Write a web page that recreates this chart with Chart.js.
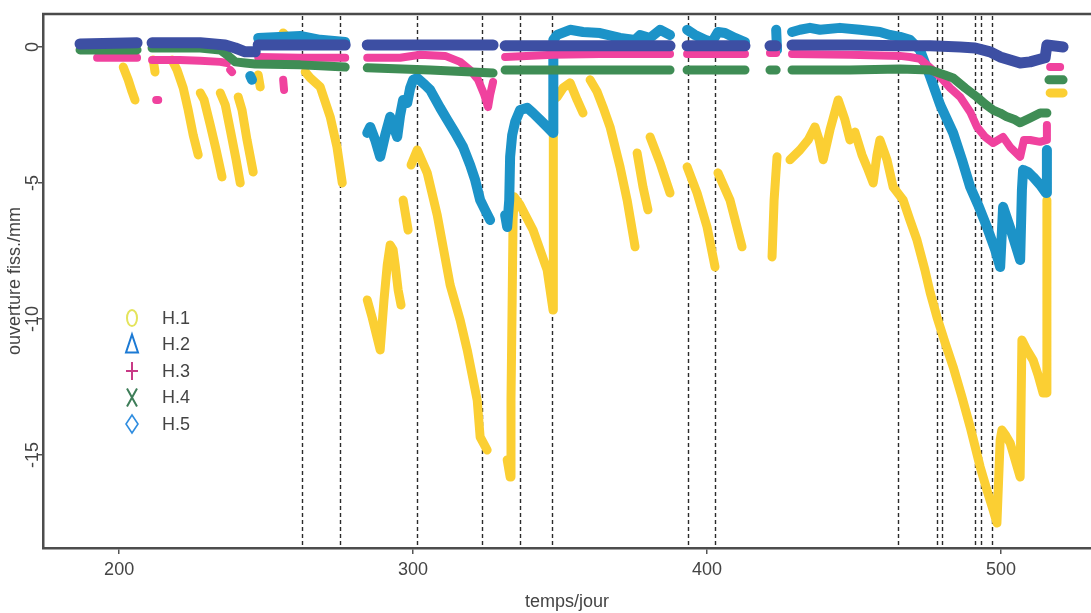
<!DOCTYPE html>
<html>
<head>
<meta charset="utf-8">
<script src="https://cdn.jsdelivr.net/npm/chart.js"></script>
<style>
  html, body { margin: 0; padding: 0; background: #fff; }
  #wrap { width: 1091px; height: 613px; position: relative; }
</style>
</head>
<body>
<div id="wrap"><canvas id="chart"></canvas></div>
<script>
const h1 = [
  [201.4,-0.74],[203.1,-1.21],[204.4,-1.65],[205.4,-1.95], null,
  [211.6,-0.48],[212.2,-0.92], null,
  [218.0,-0.48],[219.7,-0.85],[221.8,-1.51],[223.5,-2.32],[225.2,-3.24],[226.9,-3.97], null,
  [227.6,-1.69],[228.9,-1.95],[231.0,-2.87],[233.0,-3.79],[235.0,-4.78], null,
  [234.4,-1.69],[236.1,-2.13],[237.8,-3.05],[239.8,-4.15],[241.2,-5.00], null,
  [240.5,-1.84],[241.8,-2.32],[243.5,-3.42],[245.6,-4.60], null,
  [247.3,-1.03],[248.0,-1.47], null,
  [255.8,0.51],[257.1,0.37], null,
  [263.3,-0.92],[265.0,-1.14],[268.4,-1.47],[271.8,-2.57],[274.1,-3.68],[275.9,-5.00], null,
  [284.4,-9.30],[286.1,-9.96],[288.8,-11.14],[290.1,-9.30],[291.2,-8.01],[292.2,-7.28],[293.2,-7.46],[293.9,-8.01],[294.9,-8.93],[295.9,-9.49], null,
  [296.6,-5.63],[298.3,-6.73], null,
  [299.3,-4.34],[301.4,-3.79],[304.8,-4.63],[308.2,-6.18],[312.6,-8.75],[316.0,-10.04],[318.4,-11.14],[321.8,-12.98],[322.8,-14.34],[325.2,-14.82], null,
  [332.0,-15.18],[333.0,-15.81],[333.3,-12.98],[333.7,-9.30],[334.0,-6.36],[334.4,-5.51],[336.4,-5.81],[340.8,-6.73],[345.6,-8.20],[347.6,-9.67],
  [347.7,-1.95],[349.0,-1.84],[351.0,-1.51],[353.4,-1.32],[355.8,-1.95],[357.8,-2.43], null,
  [360.2,-1.21],[362.6,-1.65],[364.6,-2.21],[367.0,-2.94],[370.4,-4.41],[372.8,-5.63],[375.5,-7.35], null,
  [376.2,-3.90],[378.2,-5.15],[379.9,-5.99], null,
  [380.6,-3.31],[384.0,-4.26],[387.4,-5.37], null,
  [393.2,-4.41],[396.6,-5.37],[400.0,-6.62],[402.7,-8.09], null,
  [403.7,-4.63],[407.8,-5.63],[411.9,-7.35], null,
  [422.1,-7.72],[422.8,-5.63],[423.8,-4.04], null,
  [428.2,-4.15],[431.6,-3.79],[434.4,-3.42],[436.7,-2.94],[438.1,-3.42],[439.5,-4.15],[441.8,-3.05],[444.6,-1.95],[446.9,-2.68],[448.6,-3.42],
  [450.3,-3.13],[452.7,-3.97],[454.8,-4.52],[456.5,-5.00],[457.8,-3.97],[458.8,-3.42],[461.2,-4.15],[463.3,-5.15],[466.7,-5.63],[469.0,-6.36],
  [471.4,-7.10],[474.1,-8.20],[475.9,-9.04],[478.2,-9.93],[480.9,-10.85],[483.7,-11.76],[486.7,-12.87],[489.5,-13.97],[492.9,-15.44],[495.2,-16.29],
  [497.3,-17.02],[498.6,-17.50],[499.7,-14.45],[500.3,-14.08],[501.7,-14.30],[503.1,-14.56],[504.8,-15.18],[506.5,-15.81],[507.1,-10.77],[508.8,-11.14],
  [510.9,-11.51],[512.6,-12.06],[514.3,-12.72],[515.3,-12.72],[515.6,-9.30],[515.6,-5.63], null,
  [516.7,-1.69],[521.1,-1.69]
];
const h2 = [
  [244.6,-1.07],[245.2,-1.21], null,
  [247.3,0.33],[261.6,0.40],[268.4,0.26],[276.9,0.18], null,
  [284.4,-3.16],[285.4,-2.94],[287.1,-3.42],[288.8,-4.04],[290.5,-3.24],[292.2,-2.57],[293.5,-2.98],[294.6,-3.31],[295.6,-2.50],[296.6,-1.95],
  [298.0,-2.06],[299.0,-1.51],[300.0,-1.21],[301.4,-1.14],[304.1,-1.40],[305.8,-1.58],[309.2,-2.24],[311.6,-2.68],[314.3,-3.16],[317.0,-3.68],
  [319.4,-4.34],[321.1,-4.89],[322.8,-5.63],[324.5,-6.00],[326.2,-6.36], null,
  [331.3,-6.18],[332.0,-6.62],[332.7,-5.63],[333.0,-4.04],[333.7,-3.24],[334.7,-2.76],[336.4,-2.32],[338.8,-2.24],[340.8,-2.43],[343.2,-2.68],
  [345.6,-2.94],[347.6,-3.16],[347.7,0.26],[349.0,0.44],[353.4,0.63],[357.8,0.55],[363.6,0.51],[370.4,0.33],[375.5,0.26],[377.2,0.44],
  [380.6,0.33],[384.0,0.63],[387.4,0.44], null,
  [393.2,0.63],[395.9,0.44],[399.3,0.26],[401.7,0.18],[403.7,0.55],[406.1,0.51],[409.5,0.33],[412.9,0.18], null,
  [423.5,0.63],[423.8,-0.11], null,
  [428.9,0.55],[431.6,0.63],[435.0,0.70],[438.4,0.63],[445.2,0.70],[452.0,0.63],[458.8,0.55],[462.2,0.44],[465.6,0.37],[469.0,0.26],
  [472.4,-0.11],[475.9,-1.10],[479.3,-2.13],[483.7,-3.16],[486.7,-4.15],[489.5,-5.15],[492.2,-5.81],[495.2,-6.62],[498.0,-7.46],[499.7,-8.09],
  [500.7,-5.88],[503.1,-6.65],[506.5,-7.83],[507.1,-5.26],[507.5,-4.52],[509.2,-4.60],[510.9,-4.78],[513.3,-5.07],[515.3,-5.37],[515.6,-3.79]
];
const h3 = [
  [192.5,-0.40],[200.3,-0.40],[206.1,-0.40], null,
  [212.6,-1.95],[213.3,-1.95], null,
  [211.2,-0.48],[220.7,-0.48],[227.6,-0.51],[234.4,-0.55],[236.7,-0.59], null,
  [237.8,-0.85],[238.4,-0.92], null,
  [255.8,-1.21],[256.1,-1.58], null,
  [247.3,-0.37],[261.6,-0.40],[276.9,-0.40], null,
  [284.4,-0.40],[295.6,-0.40],[302.4,-0.29],[310.9,-0.33],[316.0,-0.55],[319.4,-0.85],[322.1,-1.21],[324.2,-1.76],[325.5,-2.21],[326.2,-1.76],[327.2,-1.29], null,
  [331.3,-0.37],[347.6,-0.29],[363.6,-0.26],[387.4,-0.26], null,
  [393.2,-0.26],[412.9,-0.26], null,
  [421.4,-0.22],[423.5,-0.22], null,
  [428.9,-0.26],[448.6,-0.29],[465.6,-0.33],[469.0,-0.37],[472.4,-0.44],[475.9,-0.77],[479.3,-1.10],[482.7,-1.51],[486.1,-1.84],[489.5,-2.39],
  [491.8,-2.94],[494.6,-3.31],[497.3,-3.53],[500.7,-3.31],[503.1,-3.68],[506.5,-4.04],[507.8,-3.42],[509.9,-3.42],[513.3,-3.49],[515.6,-3.42],[515.6,-2.87], null,
  [516.7,-0.74],[520.1,-0.74]
];
const h4 = [
  [186.7,-0.11],[206.1,-0.11], null,
  [211.2,-0.04],[227.6,-0.04],[234.4,-0.11],[236.7,-0.29],[239.5,-0.55],[242.9,-0.59],[246.3,-0.63],[261.6,-0.66],[276.9,-0.74], null,
  [284.4,-0.77],[305.8,-0.85],[327.2,-0.96], null,
  [331.3,-0.85],[356.8,-0.85],[387.4,-0.85], null,
  [393.2,-0.85],[412.9,-0.85], null,
  [421.4,-0.85],[423.5,-0.85], null,
  [428.9,-0.85],[448.6,-0.85],[465.6,-0.81],[475.9,-0.85],[480.9,-1.03],[483.7,-1.14],[487.8,-1.51],[491.8,-1.84],[494.6,-2.10],[497.3,-2.32],
  [499.7,-2.43],[502.0,-2.57],[504.8,-2.68],[506.5,-2.79],[509.9,-2.61],[513.3,-2.43],[515.6,-2.43], null,
  [516.3,-1.21],[521.1,-1.21]
];
const h5 = [
  [186.7,0.11],[206.1,0.15], null,
  [211.2,0.15],[227.6,0.15],[236.1,0.07],[239.5,-0.04],[242.9,-0.18],[246.3,-0.18], null,
  [247.3,0.07],[261.6,0.07],[276.9,0.07], null,
  [284.4,0.07],[305.8,0.07],[327.2,0.07], null,
  [331.3,0.04],[356.8,0.04],[387.4,0.04], null,
  [393.2,0.04],[412.9,0.04], null,
  [421.4,0.04],[423.5,0.04], null,
  [428.9,0.07],[448.6,0.07],[465.6,0.04],[475.9,0.04],[486.1,0],[491.2,-0.04],[496.3,-0.18],[499.7,-0.37],[503.1,-0.48],[506.5,-0.59],
  [509.9,-0.55],[512.2,-0.48],[515.0,-0.40],[515.6,0.07],[521.1,0]
];

const eventDays = [262.2, 275.2, 301.3, 323.4, 336.2, 347.2, 393.5, 402.6, 465.0, 478.1, 479.8, 491.3, 493.2, 497.0];
const xTicks = [200, 300, 400, 500];
const yTicks = [0, -5, -10, -15];
const seriesNames = ['H.1', 'H.2', 'H.3', 'H.4', 'H.5'];

const FONT = '"Liberation Sans", Arial, Helvetica, sans-serif';
const INK = '#444';
const lineColors = ['#fbcf33', '#1c93c8', '#f0429e', '#3f8d55', '#3d4fa3'];
const legendColors = ['#e4e45c', '#1c7ad4', '#c83a86', '#3e7d58', '#2f8de0'];
const lineWidths = [9, 10, 8, 9, 11];

function toPoints(arr) {
    return arr.map((p, i) => p ? { x: p[0], y: p[1] } : { x: arr[i - 1][0], y: null });
}

const eventLines = {
    id: 'eventLines',
    beforeDatasetsDraw(chart) {
        const { ctx, chartArea, scales: { x } } = chart;
        ctx.save();
        ctx.strokeStyle = '#2b2b2b';
        ctx.lineWidth = 1.4;
        ctx.setLineDash([4, 3]);
        eventDays.forEach(d => {
            const px = Math.round(x.getPixelForValue(d)) + 0.5;
            ctx.beginPath();
            ctx.moveTo(px, chartArea.top + 2);
            ctx.lineTo(px, chartArea.bottom);
            ctx.stroke();
        });
        ctx.restore();
    }
};

function drawMarker(ctx, i, cx, cy, color) {
    ctx.save();
    ctx.strokeStyle = color;
    ctx.lineWidth = 2;
    ctx.beginPath();
    if (i === 0) {
        ctx.ellipse(cx, cy, 5, 8, 0, 0, Math.PI * 2);
    } else if (i === 1) {
        ctx.moveTo(cx, cy - 10); ctx.lineTo(cx + 6, cy + 8); ctx.lineTo(cx - 6, cy + 8); ctx.closePath();
    } else if (i === 2) {
        ctx.moveTo(cx, cy - 9); ctx.lineTo(cx, cy + 9);
        ctx.moveTo(cx - 6, cy); ctx.lineTo(cx + 6, cy);
    } else if (i === 3) {
        ctx.moveTo(cx - 5, cy - 9); ctx.lineTo(cx + 5, cy + 9);
        ctx.moveTo(cx + 5, cy - 9); ctx.lineTo(cx - 5, cy + 9);
    } else {
        ctx.lineWidth = 1.6;
        ctx.moveTo(cx, cy - 9); ctx.lineTo(cx + 6, cy); ctx.lineTo(cx, cy + 9); ctx.lineTo(cx - 6, cy); ctx.closePath();
    }
    ctx.stroke();
    ctx.restore();
}

const frame = {
    id: 'frame',
    afterDraw(chart) {
        const { ctx, chartArea, scales: { y } } = chart;
        ctx.save();
        // top border of the box
        ctx.strokeStyle = '#4a4a4a';
        ctx.lineWidth = 2.5;
        ctx.beginPath();
        ctx.moveTo(chartArea.left - 1, chartArea.top);
        ctx.lineTo(chartArea.right, chartArea.top);
        ctx.stroke();

        // y tick labels, rotated like the original
        ctx.fillStyle = INK;
        ctx.font = '18px ' + FONT;
        ctx.textAlign = 'center';
        ctx.textBaseline = 'middle';
        yTicks.forEach(v => {
            ctx.save();
            ctx.translate(chartArea.left - 10, y.getPixelForValue(v));
            ctx.rotate(-Math.PI / 2);
            ctx.fillText(String(v), 0, 0);
            ctx.restore();
        });

        // legend inside the plot
        const lx = chartArea.left + 89, tx = chartArea.left + 119, ly = 318, step = 26.5;
        chart.data.datasets.forEach((ds, i) => {
            const cy = ly + i * step;
            drawMarker(ctx, i, lx, cy, legendColors[i]);
            ctx.fillStyle = INK;
            ctx.textAlign = 'left';
            ctx.fillText(ds.label, tx, cy + 1);
        });
        ctx.restore();
    }
};

document.addEventListener('DOMContentLoaded', () => {
    const series = [h1, h2, h3, h4, h5];
    const datasets = series.map((s, i) => ({
        label: seriesNames[i],
        data: toPoints(s),
        borderColor: lineColors[i],
        borderWidth: lineWidths[i],
        borderCapStyle: 'round',
        borderJoinStyle: 'round',
        pointRadius: 0,
        fill: false,
        tension: 0,
        spanGaps: false,
        order: 5 - i
    }));

    new Chart(document.getElementById('chart'), {
        type: 'line',
        data: { datasets },
        options: {
            responsive: true,
            maintainAspectRatio: false,
            animation: false,
            events: [],
            layout: { padding: { top: 14, left: 0, right: 0, bottom: 0 } },
            plugins: { legend: { display: false }, tooltip: { enabled: false } },
            scales: {
                x: {
                    type: 'linear',
                    min: 174.1,
                    max: 530.6,
                    afterBuildTicks: s => { s.ticks = xTicks.map(v => ({ value: v })); },
                    afterFit: s => { s.height = 65; },
                    ticks: { color: INK, font: { family: FONT, size: 18 }, padding: 5, maxRotation: 0, autoSkip: false },
                    grid: { drawOnChartArea: false, drawTicks: true, tickLength: 6, color: '#555', lineWidth: 1.5 },
                    border: { display: true, color: '#4d4d4d', width: 2.5 },
                    title: { display: true, text: 'temps/jour', color: INK, font: { family: FONT, size: 18 }, padding: { top: 0, bottom: 0 } }
                },
                y: {
                    type: 'linear',
                    min: -18.42,
                    max: 1.21,
                    afterBuildTicks: s => { s.ticks = yTicks.map(v => ({ value: v })); },
                    afterFit: s => { s.width = 43; },
                    ticks: { display: false },
                    grid: { drawOnChartArea: false, drawTicks: true, tickLength: 5, color: '#555', lineWidth: 1.5 },
                    border: { display: true, color: '#4d4d4d', width: 2.5 },
                    title: { display: true, text: 'ouverture fiss./mm', color: INK, font: { family: FONT, size: 18 }, padding: { top: 4, bottom: 0 } }
                }
            }
        },
        plugins: [eventLines, frame]
    });
});
</script>
</body>
</html>
